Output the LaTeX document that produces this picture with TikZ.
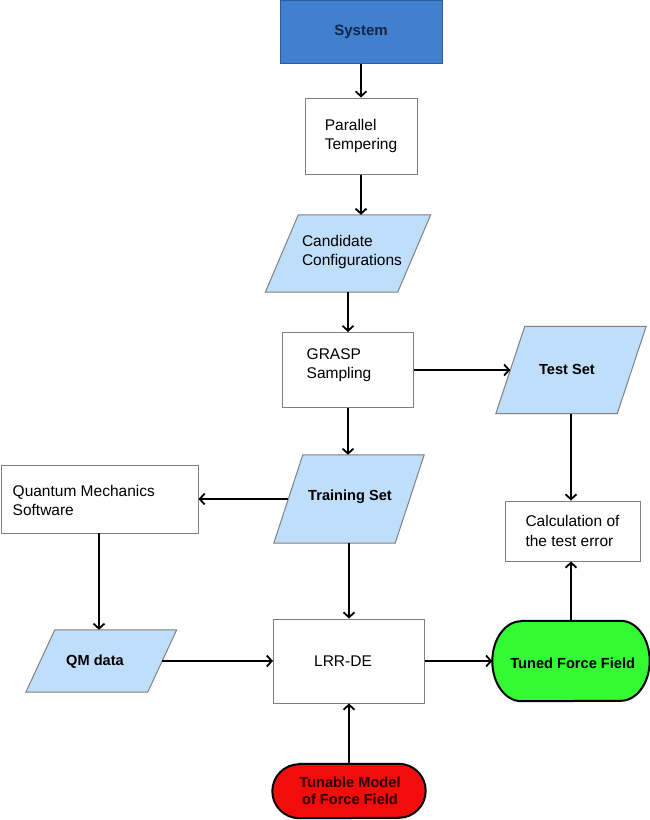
\documentclass[tikz,border=0pt]{standalone}
\usepackage{fontspec}
\setmainfont{Liberation Sans}
\usetikzlibrary{arrows.meta,backgrounds}
\definecolor{sysblue}{RGB}{64,128,206}
\definecolor{sysborder}{RGB}{46,92,150}
\definecolor{navy}{RGB}{20,36,70}
\definecolor{lblue}{RGB}{191,222,250}
\definecolor{boxgray}{RGB}{128,128,128}
\definecolor{tgreen}{RGB}{51,250,51}
\definecolor{tred}{RGB}{242,12,12}
\definecolor{darkred}{RGB}{45,0,0}
\begin{document}
\begin{tikzpicture}[x=1pt,y=-1pt,
  txt/.style={font=\fontsize{15.5}{19.5}\selectfont, align=left, text=black, inner sep=0pt},
  btxt/.style={font=\fontsize{14.6}{17}\selectfont\bfseries, align=center, text=black, inner sep=0pt},
  plainbox/.style={draw=boxgray, line width=1pt, fill=white, rectangle, inner sep=0pt},
  hidden/.style={rectangle, inner sep=0pt},
  parafill/.style={fill=lblue, draw=boxgray, line width=1pt, line join=miter},
  termfill/.style={draw=black, line width=2pt},
  arr/.style={-{Straight Barb[length=5pt,width=11pt,line width=1.8pt]}, line width=2pt, black}
]
\useasboundingbox (0,0) rectangle (650,820);

% System
\node[rectangle, fill=sysblue, draw=sysborder, line width=1pt, minimum width=162pt, minimum height=63pt,
  font=\fontsize{15}{18}\selectfont\bfseries, text=navy] (sys) at (361,31.5) {System};

% Parallel Tempering
\node[plainbox, txt, minimum width=112pt, minimum height=76pt] (pt) at (361,136) {Parallel\\Tempering};

% Candidate Configurations (parallelogram)
\node[hidden, minimum width=132pt, minimum height=77pt] (cand) at (348,253.5) {};
\node[txt] (candtxt) at (352,252) {Candidate\\Configurations};

% GRASP
\node[plainbox, minimum width=131pt, minimum height=75pt] (grasp) at (348,370) {};
\node[txt] (grasptxt) at (339,365) {GRASP\\Sampling};

% Test Set
\node[hidden, minimum width=121pt, minimum height=87pt] (test) at (571,370) {};
\node[btxt] (testtxt) at (567,369) {Test Set};

% Training Set
\node[hidden, minimum width=121pt, minimum height=88pt] (train) at (349,499) {};
\node[btxt] (traintxt) at (350,497) {Training Set};

% Quantum Mechanics Software
\node[plainbox, minimum width=197pt, minimum height=68pt] (qms) at (99.5,499) {};
\node[txt, anchor=west] (qmstxt) at (12.5,500.5) {Quantum Mechanics\\Software};
\coordinate (qmsdown) at (99,533);

% Calculation of the test error
\node[plainbox, txt, minimum width=135pt, minimum height=60pt] (calc) at (572.5,531) {Calculation of\\the test error};

% QM data
\node[hidden, minimum width=121.5pt, minimum height=62pt] (qmd) at (101.25,661) {};
\node[btxt] (qmdtxt) at (95,662) {QM data};

% LRR-DE
\node[plainbox, minimum width=151pt, minimum height=84pt] (lrr) at (349,661) {};
\node[txt] (lrrtxt) at (343,661) {LRR-DE};

% Tuned Force Field
\node[hidden, minimum width=157pt, minimum height=80pt] (tuned) at (571,661) {};
\node[btxt] (tunedtxt) at (572.7,663) {Tuned Force Field};

% Tunable Model of Force Field
\node[hidden, minimum width=153pt, minimum height=54pt] (tunable) at (349,791) {};
\node[btxt, text=darkred] (tunabletxt) at (350,790.5) {Tunable Model\\of Force Field};

\begin{scope}[on background layer]
  % parallelograms
  \draw[parafill] ([xshift=16.5pt]cand.north west) -- ([xshift=16.5pt]cand.north east)
     -- ([xshift=-16.5pt]cand.south east) -- ([xshift=-16.5pt]cand.south west) -- cycle;
  \draw[parafill] ([xshift=14.5pt]test.north west) -- ([xshift=14.5pt]test.north east)
     -- ([xshift=-14.5pt]test.south east) -- ([xshift=-14.5pt]test.south west) -- cycle;
  \draw[parafill] ([xshift=14.5pt]train.north west) -- ([xshift=14.5pt]train.north east)
     -- ([xshift=-14.5pt]train.south east) -- ([xshift=-14.5pt]train.south west) -- cycle;
  \draw[parafill] ([xshift=14.5pt]qmd.north west) -- ([xshift=14.5pt]qmd.north east)
     -- ([xshift=-14.5pt]qmd.south east) -- ([xshift=-14.5pt]qmd.south west) -- cycle;
  % terminators
  \draw[termfill, fill=tgreen] ([xshift=29pt]tuned.north west) -- ([xshift=-29pt]tuned.north east)
     arc[start angle=90, end angle=-90, x radius=29pt, y radius=40pt]
     -- ([xshift=29pt]tuned.south west)
     arc[start angle=270, end angle=90, x radius=29pt, y radius=40pt] -- cycle;
  \draw[termfill, fill=tred] ([xshift=27pt]tunable.north west) -- ([xshift=-27pt]tunable.north east)
     arc[start angle=90, end angle=-90, x radius=27pt, y radius=27pt]
     -- ([xshift=27pt]tunable.south west)
     arc[start angle=270, end angle=90, x radius=27pt, y radius=27pt] -- cycle;
\end{scope}

% connectors
\draw[arr] (sys.south) -- (pt.north);
\draw[arr] (pt.south) -- (pt.south |- cand.north);
\draw[arr] (cand.south) -- (cand.south |- grasp.north);
\draw[arr] (grasp.east) -- (grasp.east -| test.west);
\draw[arr] (grasp.south) -- (grasp.south |- train.north);
\draw[arr] (train.west) -- (qms.east);
\draw[arr] (qmsdown) -- (qmsdown |- qmd.north);
\draw[arr] (test.south) -- (test.south |- calc.north);
\draw[arr] (train.south) -- (train.south |- lrr.north);
\draw[arr] (qmd.east) -- (lrr.west);
\draw[arr] (lrr.east) -- (lrr.east -| tuned.west);
\draw[arr] (tuned.north) -- (tuned.north |- calc.south);
\draw[arr] (tunable.north) -- (tunable.north |- lrr.south);
\end{tikzpicture}
\end{document}
